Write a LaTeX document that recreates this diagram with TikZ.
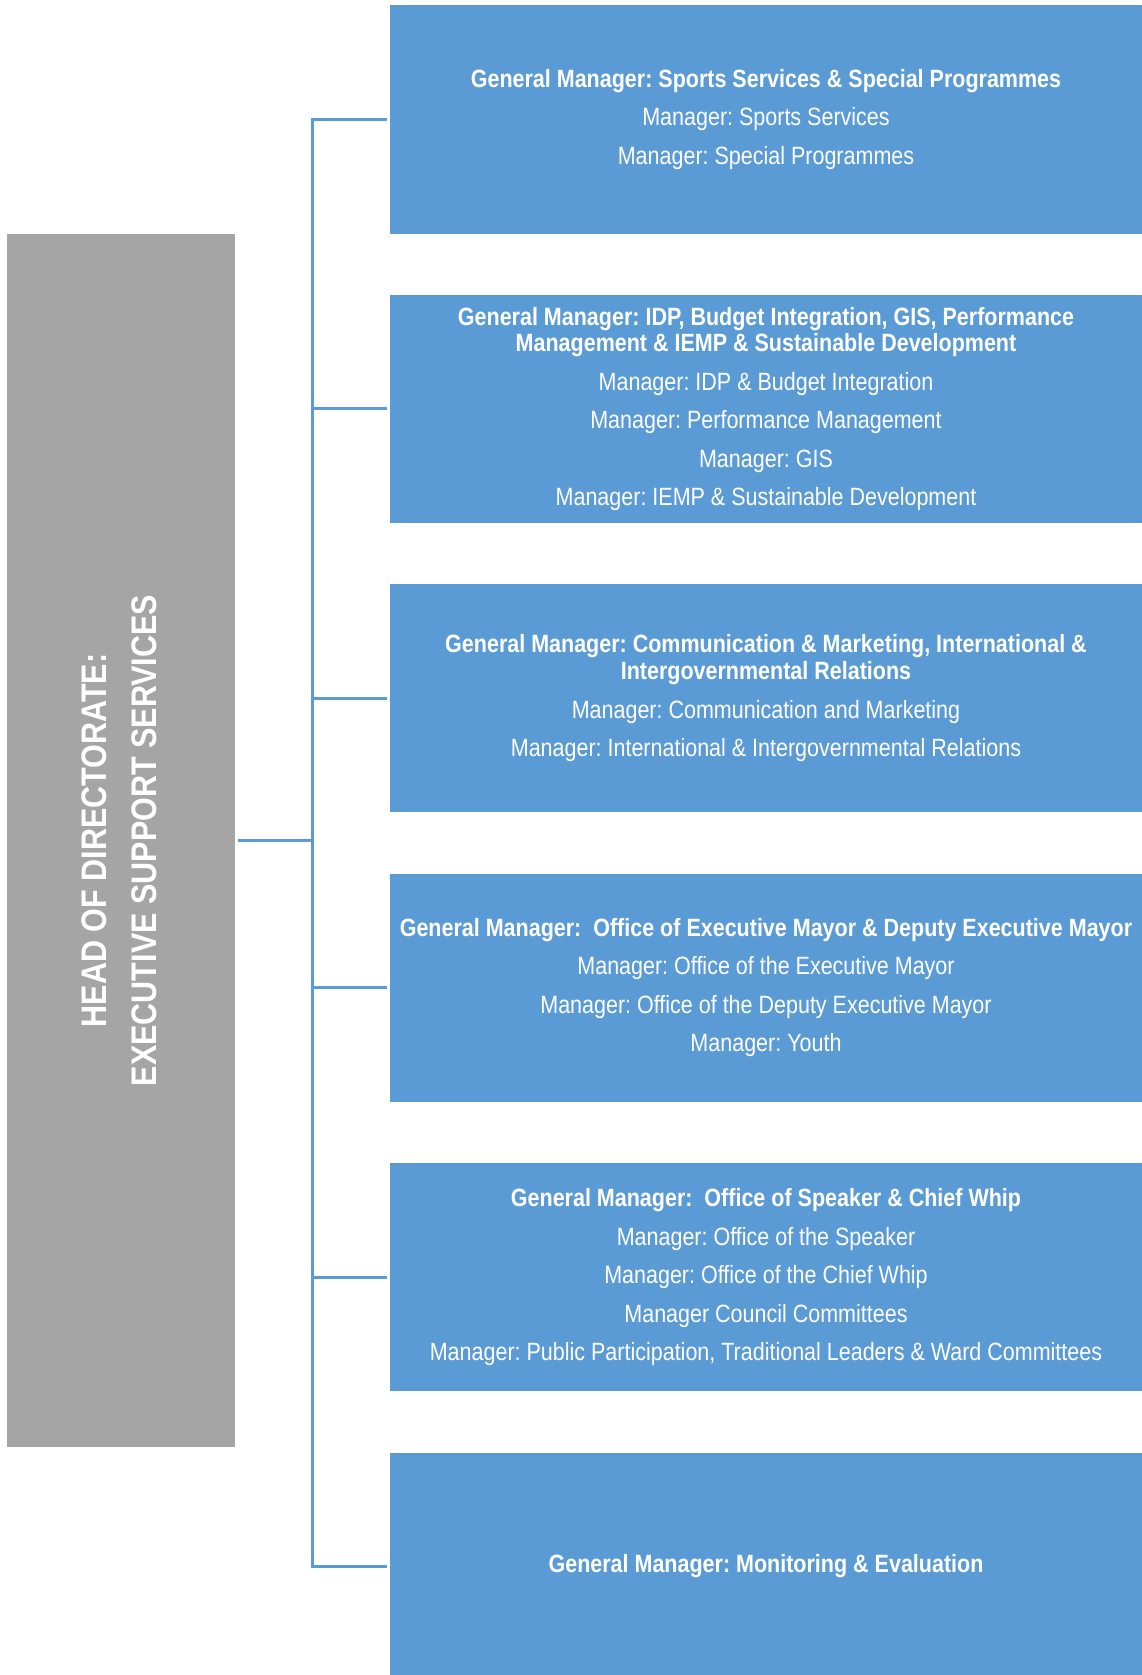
\documentclass[tikz,border=0pt]{standalone}
\usepackage{fontspec}
\setmainfont[FakeStretch=0.86]{Liberation Sans}
\usetikzlibrary{positioning}
\definecolor{gmblue}{HTML}{5B9BD5}
\definecolor{headgray}{HTML}{A5A5A5}
\frenchspacing

\begin{document}
\begin{tikzpicture}[
    x=1pt, y=-1pt,
    node distance=61pt,
    gmbox/.style={fill=gmblue, text=white, align=center, inner sep=0pt, minimum width=752pt, minimum height=228pt, font=\fontsize{25pt}{38.5pt}\selectfont},
    headbox/.style={fill=headgray, text=white, inner sep=0pt, minimum width=228pt, minimum height=1213pt, font=\fontsize{35.5pt}{50pt}\selectfont\bfseries},
    link/.style={draw=gmblue, line width=3pt}
]
\useasboundingbox[fill=white] (0,0) rectangle (1142,1675);
\clip (0,0) rectangle (1142,1675);
\node[headbox] (head) at (121,840.5) {\rotatebox{90}{\begin{tabular}{@{}c@{}}HEAD OF DIRECTORATE:\\EXECUTIVE SUPPORT SERVICES\end{tabular}}};
\node[gmbox] (sports) at (766,119.5) {\textbf{General Manager: Sports Services \& Special Programmes}\\Manager: Sports Services\\Manager: Special Programmes};
\node[gmbox, below=of sports] (idp) {\textbf{General Manager: IDP, Budget Integration, GIS, Performance}\\[-11.8pt]\textbf{Management \& IEMP \& Sustainable Development}\\Manager: IDP \& Budget Integration\\Manager: Performance Management\\Manager: GIS\\Manager: IEMP \& Sustainable Development};
\node[gmbox, below=of idp] (comms) {\textbf{General Manager: Communication \& Marketing, International \&}\\[-11.8pt]\textbf{Intergovernmental Relations}\\Manager: Communication and Marketing\\Manager: International \& Intergovernmental Relations};
\node[gmbox, below=of comms] (mayor) {\textbf{General Manager:~ Office of Executive Mayor \& Deputy Executive Mayor}\\Manager: Office of the Executive Mayor\\Manager: Office of the Deputy Executive Mayor\\Manager: Youth};
\node[gmbox, below=of mayor] (speaker) {\textbf{General Manager:~ Office of Speaker \& Chief Whip}\\Manager: Office of the Speaker\\Manager: Office of the Chief Whip\\Manager Council Committees\\Manager: Public Participation, Traditional Leaders \& Ward Committees};
\node[gmbox, below=of speaker] (monitor) {\textbf{General Manager: Monitoring \& Evaluation}};
\coordinate (hub) at (312,840.5);
\draw[link] ([xshift=3pt]head.east) -- (hub);
\draw[link] (hub) |- ([xshift=-3pt]sports.west);
\draw[link] (hub) |- ([xshift=-3pt]idp.west);
\draw[link] (hub) |- ([xshift=-3pt]comms.west);
\draw[link] (hub) |- ([xshift=-3pt]mayor.west);
\draw[link] (hub) |- ([xshift=-3pt]speaker.west);
\draw[link] (hub) |- ([xshift=-3pt]monitor.west);
\end{tikzpicture}
\end{document}
